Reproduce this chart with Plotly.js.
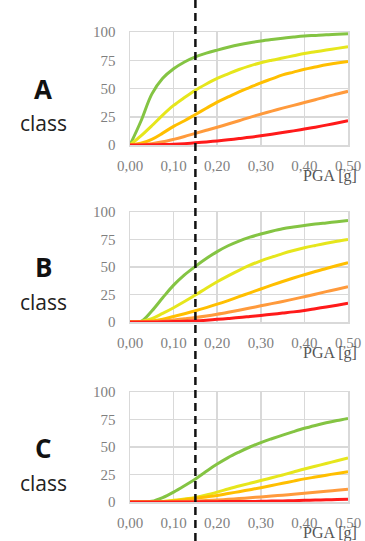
<!DOCTYPE html>
<html><head><meta charset="utf-8">
<script src="https://cdn.plot.ly/plotly-3.0.1.min.js"></script>
<style>html,body{margin:0;padding:0;background:#fff}#chart{width:365px;height:541px}</style>
</head><body><div id="chart"></div>
<script>
// PGA [g] sample points
const pga = [0, 0.025, 0.05, 0.075, 0.1, 0.125, 0.15, 0.175, 0.2, 0.225, 0.25,
             0.275, 0.3, 0.325, 0.35, 0.375, 0.4, 0.425, 0.45, 0.475, 0.5];
const seriesColors = ['#84c443', '#e6e61c', '#ffbf00', '#ff9a3c', '#ff1a1a'];
const classNames = ['A', 'B', 'C'];
const pgaRef = 0.15;

// Class A
const A_d1 = [0, 21, 45, 59, 67.5, 73.5, 78, 81.3, 84, 86.5, 88.7, 90.5, 92, 93.3, 94.5, 95.5, 96.4, 97, 97.6, 98, 98.5];
const A_d2 = [0, 8, 17, 26.5, 35, 42, 48.5, 54, 59, 63, 66.8, 70, 72.8, 75, 77, 79, 81, 82.5, 84, 85.5, 87];
const A_d3 = [0, 1.5, 5, 10.5, 16.5, 21.5, 27, 32.5, 38, 42.5, 47, 51, 55, 58.5, 62, 64.5, 67, 69, 71, 72.5, 74];
const A_d4 = [0, 0.3, 1.2, 2.8, 5, 7.5, 10.3, 13, 15.7, 18.6, 21.5, 24.5, 27.3, 30, 32.6, 35.1, 37.6, 40.1, 42.7, 45.1, 47.5];
const A_d5 = [0, 0, 0.2, 0.4, 0.7, 1.2, 1.9, 2.7, 3.6, 4.6, 5.7, 6.8, 8.1, 9.5, 11, 12.5, 14.1, 15.8, 17.6, 19.5, 21.5];
// Class B
const B_d1 = [0, 0.5, 10, 22, 33.5, 42.8, 50.6, 57.7, 64, 69.3, 73.6, 77.1, 80, 82.5, 84.7, 86.3, 87.7, 89, 90.1, 91.2, 92.3];
const B_d2 = [0, 0.5, 3, 7.8, 13, 18.6, 24.5, 30.7, 36.6, 42, 47, 51.6, 55.6, 59, 62.2, 65, 67.5, 69.6, 71.6, 73.4, 75];
const B_d3 = [0, 0.2, 1, 2.6, 5, 7.5, 10.2, 13.1, 16.2, 19.5, 23, 26.5, 30, 33.5, 36.8, 40, 43, 45.9, 48.6, 51.3, 54];
const B_d4 = [0, 0, 0.3, 1, 1.9, 2.9, 4, 5.4, 7, 8.8, 10.7, 12.7, 14.7, 16.7, 18.7, 20.8, 23, 25.3, 27.6, 29.8, 32];
const B_d5 = [0, 0, 0, 0.2, 0.4, 0.7, 1.1, 1.7, 2.4, 3.2, 4, 5, 6, 7, 8.1, 9.2, 10.5, 12.1, 13.7, 15.3, 17];
// Class C
const C_d1 = [0, 0, 0.6, 4, 9, 14.8, 21, 27.9, 34.5, 40.4, 45.4, 50, 54, 57.5, 60.8, 64, 67, 69.6, 72, 74.1, 76];
const C_d2 = [0, 0, 0, 0.5, 1.5, 2.7, 4.2, 6.4, 9, 11.8, 14.5, 17, 19.5, 22, 24.6, 27.3, 30, 32.5, 35, 37.5, 40];
const C_d3 = [0, 0, 0, 0.3, 1, 2, 3.3, 4.6, 6, 7.7, 9.4, 11.2, 13, 15, 17, 19, 21, 22.7, 24.4, 26, 27.6];
const C_d4 = [0, 0, 0, 0, 0.2, 0.5, 0.9, 1.3, 1.8, 2.4, 3.1, 3.8, 4.6, 5.4, 6.2, 7.1, 8, 8.9, 9.8, 10.7, 11.7];
const C_d5 = [0, 0, 0, 0, 0, 0, 0.1, 0.2, 0.3, 0.4, 0.5, 0.55, 0.6, 0.8, 1, 1.2, 1.5, 1.75, 2, 2.25, 2.5];

const xTicks = [0, 0.1, 0.2, 0.3, 0.4, 0.5];
const xTickText = ['0,00', '0,10', '0,20', '0,30', '0,40', '0,50'];
const yTicks = [0, 25, 50, 75, 100];
const yTickText = ['0', '25', '50', '75', '100'];

const panels = [
  [A_d1, A_d2, A_d3, A_d4, A_d5],
  [B_d1, B_d2, B_d3, B_d4, B_d5],
  [C_d1, C_d2, C_d3, C_d4, C_d5]
];

const W = 365, H = 541;
const boxes = [[32, 145], [212, 322], [392, 502]];
const xPix = [130, 348];

const traces = [];
panels.forEach((series, p) => {
  const sfx = p === 0 ? '' : String(p + 1);
  series.forEach((vals, i) => {
    traces.push({
      x: pga, y: vals, type: 'scatter', mode: 'lines',
      line: {color: seriesColors[i], width: 3, shape: 'spline', smoothing: 1},
      xaxis: 'x' + sfx, yaxis: 'y' + sfx, showlegend: false, hoverinfo: 'skip',
      cliponaxis: true
    });
  });
});

const tickFont = {family: 'Liberation Serif, serif', size: 15, color: '#7f7f7f'};
const layout = {
  width: W, height: H,
  margin: {l: 0, r: 0, t: 0, b: 0},
  paper_bgcolor: '#fff', plot_bgcolor: '#fff',
  showlegend: false,
  annotations: [], shapes: []
};
boxes.forEach((b, p) => {
  const sfx = p === 0 ? '' : String(p + 1);
  const yd = [1 - b[1] / H, 1 - b[0] / H];
  layout['xaxis' + sfx] = {
    domain: [xPix[0] / W, xPix[1] / W], anchor: 'y' + sfx,
    range: [0, 0.5], tickvals: xTicks, ticktext: xTickText,
    showgrid: true, gridcolor: '#d9d9d9', gridwidth: 1.5,
    showline: true, linecolor: '#d9d9d9', linewidth: 1.5, mirror: true,
    zeroline: false, ticks: 'outside', ticklen: 6, tickcolor: 'rgba(0,0,0,0)',
    tickfont: tickFont, fixedrange: true
  };
  layout['yaxis' + sfx] = {
    domain: yd, anchor: 'x' + sfx,
    range: [0, 100], tickvals: yTicks, ticktext: yTickText,
    showgrid: true, gridcolor: '#d9d9d9', gridwidth: 1.5,
    showline: true, linecolor: '#d9d9d9', linewidth: 1.5, mirror: true,
    zeroline: false, ticks: 'outside', ticklen: 10, tickcolor: 'rgba(0,0,0,0)',
    tickfont: tickFont, fixedrange: true
  };
  const letterY = [89, 267, 448][p];
  const classY = [123, 302, 483][p];
  const pgaY = [176, 353, 533][p];
  layout.annotations.push({
    text: '<b>' + classNames[p] + '</b>', xref: 'paper', yref: 'paper',
    x: 43 / W, y: 1 - letterY / H, xanchor: 'center', yanchor: 'middle',
    showarrow: false, font: {family: 'Open Sans, sans-serif', size: 26, color: '#111'}
  });
  layout.annotations.push({
    text: 'class', xref: 'paper', yref: 'paper',
    x: 43 / W, y: 1 - classY / H, xanchor: 'center', yanchor: 'middle',
    showarrow: false, font: {family: 'Open Sans, sans-serif', size: 21, color: '#222'}
  });
  layout.annotations.push({
    text: 'PGA [g]', xref: 'paper', yref: 'paper',
    x: 301 / W, y: 1 - pgaY / H, xanchor: 'left', yanchor: 'middle',
    showarrow: false, font: {family: 'Liberation Serif, serif', size: 16, color: '#555'}
  });
});
layout.shapes.push({
  type: 'line', xref: 'x', yref: 'paper', x0: pgaRef, x1: pgaRef, y0: 0, y1: 1,
  line: {color: '#111', width: 2.5, dash: '8px,5px'}, layer: 'above'
});

Plotly.newPlot('chart', traces, layout, {displayModeBar: false, staticPlot: true});
</script>
</body></html>
